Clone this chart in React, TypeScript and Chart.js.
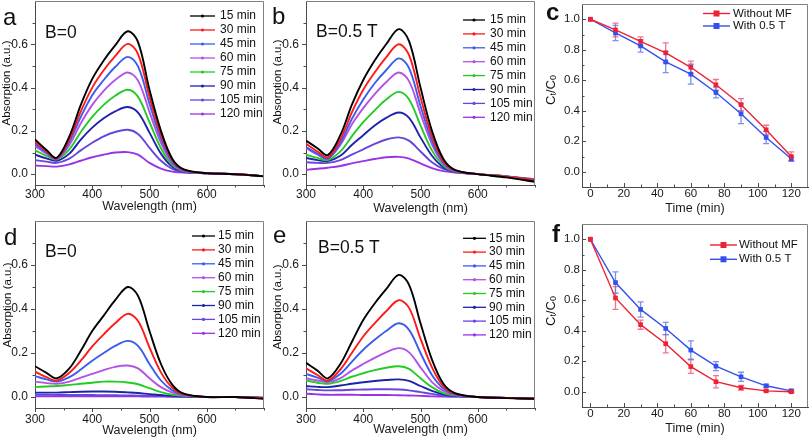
import React, { useEffect, useRef } from "react";
import { Chart, registerables } from "chart.js";
Chart.register(...registerables);

const FONT = '"Liberation Sans", Arial, Helvetica, sans-serif';

// ---------- spectra data ----------
const WAVELENGTH = [300, 320, 338, 360, 380, 400, 420, 440, 462, 480, 500, 520, 540, 560, 600, 650, 700];
const TIME_LABELS = ["15 min", "30 min", "45 min", "60 min", "75 min", "90 min", "105 min", "120 min"];
const CURVE_COLORS = ["#000000", "#ff1a1a", "#3c5cf0", "#b452e6", "#22cc22", "#1e22aa", "#6646dc", "#9a33e6"];

// panel a: B=0
const SPEC_A = [
  [0.160, 0.112, 0.076, 0.175, 0.320, 0.440, 0.525, 0.595, 0.660, 0.610, 0.390, 0.200, 0.070, 0.022, 0.005, 0.000, -0.010],
  [0.150, 0.106, 0.073, 0.160, 0.290, 0.400, 0.480, 0.545, 0.602, 0.555, 0.358, 0.182, 0.064, 0.020, 0.005, 0.000, -0.009],
  [0.140, 0.100, 0.071, 0.150, 0.265, 0.365, 0.435, 0.495, 0.542, 0.498, 0.326, 0.164, 0.057, 0.018, 0.004, 0.000, -0.009],
  [0.130, 0.095, 0.070, 0.135, 0.235, 0.320, 0.385, 0.435, 0.470, 0.432, 0.287, 0.145, 0.050, 0.016, 0.004, 0.000, -0.009],
  [0.110, 0.085, 0.068, 0.115, 0.195, 0.265, 0.320, 0.362, 0.390, 0.357, 0.240, 0.120, 0.042, 0.014, 0.004, 0.000, -0.009],
  [0.090, 0.073, 0.062, 0.095, 0.160, 0.215, 0.258, 0.290, 0.310, 0.284, 0.192, 0.095, 0.034, 0.012, 0.004, 0.000, -0.009],
  [0.065, 0.058, 0.052, 0.072, 0.110, 0.145, 0.175, 0.195, 0.205, 0.186, 0.122, 0.062, 0.024, 0.010, 0.004, 0.000, -0.009],
  [0.040, 0.037, 0.035, 0.045, 0.062, 0.078, 0.090, 0.100, 0.102, 0.090, 0.052, 0.026, 0.012, 0.007, 0.004, 0.000, -0.009],
];
// panel b: B=0.5 T
const SPEC_B = [
  [0.155, 0.120, 0.088, 0.180, 0.320, 0.435, 0.525, 0.600, 0.670, 0.615, 0.400, 0.200, 0.070, 0.020, 0.000, -0.015, -0.035],
  [0.140, 0.105, 0.078, 0.160, 0.285, 0.390, 0.470, 0.540, 0.600, 0.550, 0.355, 0.175, 0.060, 0.018, 0.000, -0.012, -0.028],
  [0.125, 0.095, 0.072, 0.145, 0.255, 0.345, 0.420, 0.480, 0.535, 0.490, 0.315, 0.155, 0.053, 0.016, 0.000, -0.012, -0.028],
  [0.120, 0.090, 0.072, 0.135, 0.230, 0.305, 0.370, 0.425, 0.470, 0.430, 0.280, 0.138, 0.048, 0.015, 0.000, -0.012, -0.028],
  [0.090, 0.075, 0.065, 0.105, 0.175, 0.240, 0.295, 0.345, 0.380, 0.345, 0.225, 0.110, 0.040, 0.013, 0.000, -0.010, -0.026],
  [0.075, 0.065, 0.060, 0.085, 0.135, 0.180, 0.225, 0.260, 0.285, 0.260, 0.170, 0.085, 0.032, 0.012, 0.000, -0.010, -0.026],
  [0.055, 0.052, 0.052, 0.065, 0.090, 0.115, 0.140, 0.160, 0.170, 0.155, 0.105, 0.055, 0.024, 0.010, 0.000, -0.010, -0.026],
  [0.020, 0.025, 0.030, 0.038, 0.050, 0.060, 0.070, 0.078, 0.080, 0.072, 0.050, 0.028, 0.014, 0.008, 0.000, -0.010, -0.024],
];
// panel d: B=0
const SPEC_D = [
  [0.140, 0.110, 0.085, 0.130, 0.210, 0.300, 0.370, 0.440, 0.500, 0.460, 0.300, 0.150, 0.055, 0.015, 0.000, 0.000, -0.008],
  [0.115, 0.090, 0.075, 0.110, 0.165, 0.230, 0.285, 0.335, 0.378, 0.345, 0.225, 0.112, 0.042, 0.012, 0.000, 0.000, -0.006],
  [0.095, 0.080, 0.070, 0.090, 0.125, 0.165, 0.200, 0.232, 0.255, 0.232, 0.150, 0.075, 0.030, 0.010, 0.000, 0.000, -0.005],
  [0.070, 0.063, 0.060, 0.070, 0.088, 0.105, 0.122, 0.137, 0.143, 0.130, 0.085, 0.045, 0.020, 0.008, 0.000, 0.000, -0.005],
  [0.045, 0.048, 0.050, 0.055, 0.060, 0.065, 0.070, 0.070, 0.066, 0.058, 0.040, 0.022, 0.010, 0.005, 0.000, 0.000, -0.005],
  [0.020, 0.020, 0.020, 0.022, 0.024, 0.025, 0.025, 0.024, 0.021, 0.018, 0.013, 0.009, 0.005, 0.003, 0.000, 0.000, -0.004],
  [0.010, 0.010, 0.009, 0.009, 0.009, 0.009, 0.008, 0.008, 0.007, 0.006, 0.005, 0.004, 0.003, 0.002, 0.000, 0.000, -0.003],
  [0.003, 0.003, 0.003, 0.003, 0.003, 0.003, 0.003, 0.003, 0.003, 0.003, 0.002, 0.002, 0.001, 0.001, 0.000, 0.000, -0.003],
];
// panel e: B=0.5 T
const SPEC_E = [
  [0.155, 0.120, 0.085, 0.150, 0.250, 0.350, 0.425, 0.490, 0.555, 0.510, 0.335, 0.170, 0.060, 0.018, 0.000, -0.005, -0.008],
  [0.130, 0.100, 0.075, 0.125, 0.200, 0.275, 0.335, 0.390, 0.440, 0.405, 0.265, 0.135, 0.048, 0.015, 0.000, -0.004, -0.008],
  [0.105, 0.088, 0.072, 0.105, 0.160, 0.215, 0.260, 0.300, 0.335, 0.305, 0.200, 0.100, 0.038, 0.012, 0.000, -0.004, -0.008],
  [0.085, 0.075, 0.068, 0.085, 0.120, 0.150, 0.178, 0.203, 0.222, 0.203, 0.135, 0.068, 0.028, 0.010, 0.000, -0.004, -0.008],
  [0.075, 0.065, 0.060, 0.072, 0.092, 0.108, 0.122, 0.133, 0.140, 0.128, 0.085, 0.045, 0.018, 0.008, 0.000, -0.004, -0.008],
  [0.050, 0.046, 0.045, 0.052, 0.060, 0.067, 0.073, 0.077, 0.080, 0.073, 0.050, 0.028, 0.012, 0.005, 0.000, -0.004, -0.008],
  [0.035, 0.032, 0.030, 0.031, 0.033, 0.034, 0.035, 0.035, 0.034, 0.030, 0.022, 0.014, 0.007, 0.004, 0.000, -0.004, -0.008],
  [0.015, 0.012, 0.010, 0.010, 0.010, 0.009, 0.009, 0.009, 0.008, 0.007, 0.005, 0.003, 0.002, 0.001, 0.000, -0.004, -0.008],
];

const WL_TICKS = [300, 350, 400, 450, 500, 550, 600, 650, 700];
const WL_LABELS = [300, 400, 500, 600];
const ABS_TICKS = [0, 0.1, 0.2, 0.3, 0.4, 0.5, 0.6, 0.7];
const ABS_LABELS = [0, 0.2, 0.4, 0.6];

// ---------- kinetics data ----------
const TIME_MIN = [0, 15, 30, 45, 60, 75, 90, 105, 120];
const SERIES_NAMES = ["Without MF", "With 0.5 T"];
const C_NO_MF = [1.0, 0.93, 0.855, 0.78, 0.685, 0.57, 0.44, 0.275, 0.10];
const C_NO_MF_ERR = [0, 0.045, 0.03, 0.065, 0.04, 0.035, 0.04, 0.03, 0.03];
const C_MF = [1.0, 0.91, 0.825, 0.72, 0.64, 0.52, 0.38, 0.225, 0.085];
const C_MF_ERR = [0, 0.05, 0.04, 0.07, 0.065, 0.035, 0.065, 0.04, 0.015];
const F_NO_MF = [1.0, 0.615, 0.44, 0.315, 0.165, 0.066, 0.026, 0.006, 0.0];
const F_NO_MF_ERR = [0, 0.075, 0.03, 0.06, 0.045, 0.04, 0.015, 0.005, 0.005];
const F_MF = [1.0, 0.716, 0.54, 0.415, 0.273, 0.168, 0.098, 0.039, 0.006];
const F_MF_ERR = [0, 0.07, 0.05, 0.04, 0.06, 0.03, 0.03, 0.01, 0.01];

const TIME_TICKS = [0, 10, 20, 30, 40, 50, 60, 70, 80, 90, 100, 110, 120];
const TIME_LABEL_TICKS = [0, 20, 40, 60, 80, 100, 120];
const RATIO_TICKS = [0, 0.1, 0.2, 0.3, 0.4, 0.5, 0.6, 0.7, 0.8, 0.9, 1.0];
const RATIO_LABELS = [0, 0.2, 0.4, 0.6, 0.8, 1.0];

const SERIES_COLORS = ["#ee2233", "#3350ee"];
const ERROR_COLORS = ["rgba(240,90,120,0.85)", "rgba(100,125,235,0.85)"];

type Geo = { left: number; top: number; w: number; h: number; aL: number; aT: number; aR: number; aB: number };

const has = (arr: number[], v: number) => arr.some((a) => Math.abs(a - v) < 1e-6);

function makeScale(o: {
  geo: Geo; isX: boolean; min: number; max: number; ticks: number[]; labels: number[];
  fmt: (v: number) => string; title?: string; titlePad?: number; pad: number; size: number;
}) {
  return {
    type: "linear",
    position: o.isX ? "bottom" : "left",
    min: o.min,
    max: o.max,
    afterBuildTicks: (s: any) => {
      s.ticks = o.ticks.map((v) => ({ value: v }));
    },
    afterFit: (s: any) => {
      if (o.isX) s.height = o.geo.h - o.geo.aB;
      else s.width = o.geo.aL;
      s.paddingLeft = 0;
      s.paddingRight = 0;
      s.paddingTop = 0;
      s.paddingBottom = 0;
    },
    grid: { display: false, drawTicks: false, drawOnChartArea: false },
    border: { display: true, color: "#4a4a4a", width: 1 },
    ticks: {
      autoSkip: false,
      maxRotation: 0,
      minRotation: 0,
      padding: o.pad,
      color: "#1a1a1a",
      font: { family: FONT, size: o.size },
      callback: (v: any) => (has(o.labels, Number(v)) ? o.fmt(Number(v)) : ""),
    },
    title: o.title
      ? { display: true, text: o.title, color: "#1a1a1a", font: { family: FONT, size: 12.5 }, padding: { top: 0, bottom: o.titlePad ?? 0 } }
      : { display: false },
  };
}

function drawFrameAndTicks(chart: any, inward: boolean, majX: number[], majY: number[]) {
  const { ctx, chartArea: a, scales } = chart;
  const x = scales.x, y = scales.y;
  ctx.save();
  ctx.strokeStyle = "#808080";
  ctx.lineWidth = 1;
  ctx.beginPath();
  ctx.moveTo(a.left, a.top + 0.5);
  ctx.lineTo(a.right - 0.5, a.top + 0.5);
  ctx.lineTo(a.right - 0.5, a.bottom);
  ctx.stroke();
  ctx.strokeStyle = "#4a4a4a";
  ctx.beginPath();
  for (const t of x.ticks) {
    const px = Math.round(x.getPixelForValue(t.value)) + 0.5;
    const len = has(majX, t.value) ? 4 : 2.5;
    ctx.moveTo(px, a.bottom);
    ctx.lineTo(px, inward ? a.bottom - len : a.bottom + len);
  }
  for (const t of y.ticks) {
    const py = Math.round(y.getPixelForValue(t.value)) + 0.5;
    const len = has(majY, t.value) ? 4 : 2.5;
    ctx.moveTo(a.left, py);
    ctx.lineTo(inward ? a.left + len : a.left - len, py);
  }
  ctx.stroke();
  ctx.restore();
}

function drawText(ctx: any, text: string, x: number, y: number, font: string, align = "left", base = "alphabetic") {
  ctx.save();
  ctx.font = font;
  ctx.fillStyle = "#111";
  ctx.textAlign = align;
  ctx.textBaseline = base;
  ctx.fillText(text, x, y);
  ctx.restore();
}

function drawRotated(ctx: any, text: string, cx: number, cy: number, font: string) {
  ctx.save();
  ctx.translate(cx, cy);
  ctx.rotate(-Math.PI / 2);
  ctx.font = font;
  ctx.fillStyle = "#111";
  ctx.textAlign = "center";
  ctx.textBaseline = "middle";
  ctx.fillText(text, 0, 0);
  ctx.restore();
}

function drawRatioTitle(ctx: any, cx: number, cy: number) {
  const big = `13px ${FONT}`, small = `9px ${FONT}`;
  const parts: [string, string, number][] = [["C", big, 0], ["t", small, 3], ["/C", big, 0], ["0", small, 3]];
  ctx.save();
  let total = 0;
  for (const [t, f] of parts) { ctx.font = f; total += ctx.measureText(t).width; }
  ctx.translate(cx, cy);
  ctx.rotate(-Math.PI / 2);
  ctx.fillStyle = "#111";
  ctx.textBaseline = "middle";
  ctx.textAlign = "left";
  let xx = -total / 2;
  for (const [t, f, dy] of parts) {
    ctx.font = f;
    ctx.fillText(t, xx, dy);
    xx += ctx.measureText(t).width;
  }
  ctx.restore();
}

type SpecPanel = {
  geo: Geo; spec: number[][]; letter: string; letterX: number; letterY: number;
  field: string; fieldX: number; fieldY: number;
  legX0: number; legX1: number; legTX: number; legY: number; legStep: number;
  yTitleX: number; yTitleY: number; xTitlePad: number; xPad: number;
};

function spectrumConfig(p: SpecPanel) {
  const datasets = TIME_LABELS.map((label, i) => ({
    label,
    data: WAVELENGTH.map((w, j) => ({ x: w, y: p.spec[i][j] })),
    borderColor: CURVE_COLORS[i],
    backgroundColor: CURVE_COLORS[i],
    borderWidth: 1.9,
    pointRadius: 0,
    tension: 0.35,
    fill: false,
  }));
  const deco = {
    id: "deco",
    afterDraw(chart: any) {
      const ctx = chart.ctx;
      drawFrameAndTicks(chart, false, WL_LABELS, ABS_LABELS);
      drawText(ctx, p.letter, p.letterX, p.letterY, `24px ${FONT}`);
      drawText(ctx, p.field, p.fieldX, p.fieldY, `17.5px ${FONT}`);
      drawRotated(ctx, "Absorption (a.u.)", p.yTitleX, p.yTitleY, `11.5px ${FONT}`);
      chart.data.datasets.forEach((ds: any, i: number) => {
        const yy = p.legY + i * p.legStep;
        ctx.save();
        ctx.strokeStyle = ds.borderColor;
        ctx.lineWidth = 1.3;
        ctx.beginPath();
        ctx.moveTo(p.legX0, yy);
        ctx.lineTo(p.legX1, yy);
        ctx.stroke();
        ctx.fillStyle = ds.borderColor;
        ctx.beginPath();
        ctx.arc((p.legX0 + p.legX1) / 2, yy, 1.6, 0, Math.PI * 2);
        ctx.fill();
        ctx.restore();
        drawText(ctx, ds.label, p.legTX, yy, `12px ${FONT}`, "left", "middle");
      });
    },
  };
  return {
    type: "line",
    data: { datasets },
    options: {
      responsive: false,
      animation: false,
      devicePixelRatio: 1,
      layout: { padding: { left: 0, top: p.geo.aT, right: p.geo.w - p.geo.aR, bottom: 0 } },
      plugins: { legend: { display: false }, tooltip: { enabled: false } },
      scales: {
        x: makeScale({ geo: p.geo, isX: true, min: 300, max: 700, ticks: WL_TICKS, labels: WL_LABELS, fmt: (v) => String(v), title: "Wavelength (nm)", titlePad: p.xTitlePad, pad: p.xPad, size: 12 }),
        y: makeScale({ geo: p.geo, isX: false, min: -0.05, max: 0.8, ticks: ABS_TICKS, labels: ABS_LABELS, fmt: (v) => v.toFixed(1), pad: 7, size: 12 }),
      },
    },
    plugins: [deco],
  };
}

type KinPanel = {
  geo: Geo; series: number[][]; errors: number[][]; letter: string; letterX: number; letterY: number;
  legX0: number; legX1: number; legTX: number; legY: number; legStep: number; yTitleX: number; yTitleY: number;
};

function kineticConfig(p: KinPanel) {
  const datasets = SERIES_NAMES.map((label, i) => ({
    label,
    data: TIME_MIN.map((t, j) => ({ x: t, y: p.series[i][j] })),
    errors: p.errors[i],
    errorColor: ERROR_COLORS[i],
    borderColor: SERIES_COLORS[i],
    backgroundColor: SERIES_COLORS[i],
    borderWidth: 1.4,
    pointStyle: "rect",
    pointRadius: 3.3,
    pointBorderWidth: 0,
    tension: 0,
    fill: false,
  }));
  const errPlugin = {
    id: "errbars",
    beforeDatasetsDraw(chart: any) {
      const { ctx, scales } = chart;
      chart.data.datasets.forEach((ds: any) => {
        ctx.save();
        ctx.strokeStyle = ds.errorColor;
        ctx.lineWidth = 1.3;
        ctx.beginPath();
        ds.data.forEach((pt: any, k: number) => {
          const e = ds.errors[k];
          if (!e) return;
          const px = scales.x.getPixelForValue(pt.x);
          const t = scales.y.getPixelForValue(pt.y + e);
          const b = scales.y.getPixelForValue(pt.y - e);
          ctx.moveTo(px, t); ctx.lineTo(px, b);
          ctx.moveTo(px - 3, t); ctx.lineTo(px + 3, t);
          ctx.moveTo(px - 3, b); ctx.lineTo(px + 3, b);
        });
        ctx.stroke();
        ctx.restore();
      });
    },
  };
  const deco = {
    id: "deco",
    afterDraw(chart: any) {
      const ctx = chart.ctx;
      drawFrameAndTicks(chart, true, TIME_LABEL_TICKS, RATIO_LABELS);
      drawText(ctx, p.letter, p.letterX, p.letterY, `bold 24px ${FONT}`);
      drawRatioTitle(ctx, p.yTitleX, p.yTitleY);
      chart.data.datasets.forEach((ds: any, i: number) => {
        const yy = p.legY + i * p.legStep;
        ctx.save();
        ctx.strokeStyle = ds.borderColor;
        ctx.lineWidth = 1.4;
        ctx.beginPath();
        ctx.moveTo(p.legX0, yy);
        ctx.lineTo(p.legX1, yy);
        ctx.stroke();
        ctx.fillStyle = ds.borderColor;
        const cx = (p.legX0 + p.legX1) / 2;
        ctx.fillRect(cx - 3, yy - 3, 6, 6);
        ctx.restore();
        drawText(ctx, ds.label, p.legTX, yy, `11.5px ${FONT}`, "left", "middle");
      });
    },
  };
  return {
    type: "line",
    data: { datasets },
    options: {
      responsive: false,
      animation: false,
      devicePixelRatio: 1,
      layout: { padding: { left: 0, top: p.geo.aT, right: p.geo.w - p.geo.aR, bottom: 0 } },
      plugins: { legend: { display: false }, tooltip: { enabled: false } },
      scales: {
        x: makeScale({ geo: p.geo, isX: true, min: -5, max: 130, ticks: TIME_TICKS, labels: TIME_LABEL_TICKS, fmt: (v) => String(v), title: "Time (min)", titlePad: 3.5, pad: 0, size: 11.5 }),
        y: makeScale({ geo: p.geo, isX: false, min: -0.1, max: 1.1, ticks: RATIO_TICKS, labels: RATIO_LABELS, fmt: (v) => v.toFixed(1), pad: 2, size: 11.5 }),
      },
    },
    plugins: [errPlugin, deco],
  };
}

const GEO_A: Geo = { left: 0, top: 0, w: 270, h: 220, aL: 35, aT: 1, aR: 264, aB: 185 };
const GEO_B: Geo = { left: 270, top: 0, w: 270, h: 220, aL: 36, aT: 1, aR: 265, aB: 185 };
const GEO_C: Geo = { left: 540, top: 0, w: 272, h: 220, aL: 42, aT: 3, aR: 269, aB: 187 };
const GEO_D: Geo = { left: 0, top: 220, w: 270, h: 220, aL: 35, aT: 1, aR: 264, aB: 188 };
const GEO_E: Geo = { left: 270, top: 220, w: 270, h: 220, aL: 36, aT: 1, aR: 265, aB: 188 };
const GEO_F: Geo = { left: 540, top: 220, w: 272, h: 220, aL: 42, aT: 3, aR: 269, aB: 187 };

function Panel({ geo, build }: { geo: Geo; build: () => any }) {
  const ref = useRef<HTMLCanvasElement>(null);
  useEffect(() => {
    const chart = new Chart(ref.current as HTMLCanvasElement, build() as any);
    return () => chart.destroy();
  }, []);
  return (
    <div style={{ position: "absolute", left: geo.left, top: geo.top, width: geo.w, height: geo.h }}>
      <canvas ref={ref} width={geo.w} height={geo.h} style={{ width: geo.w, height: geo.h, display: "block" }} />
    </div>
  );
}

export default function App() {
  return (
    <div style={{ position: "fixed", left: 0, top: 0, width: 812, height: 440, background: "#fff", overflow: "hidden" }}>
      <Panel geo={GEO_A} build={() => spectrumConfig({ geo: GEO_A, spec: SPEC_A, letter: "a", letterX: 3, letterY: 25, field: "B=0", fieldX: 45, fieldY: 37.5, legX0: 190, legX1: 215, legTX: 220, legY: 16, legStep: 14, yTitleX: 6.5, yTitleY: 83, xTitlePad: 5.5, xPad: 2 })} />
      <Panel geo={GEO_B} build={() => spectrumConfig({ geo: GEO_B, spec: SPEC_B, letter: "b", letterX: 2, letterY: 24, field: "B=0.5 T", fieldX: 46, fieldY: 36.5, legX0: 193, legX1: 215, legTX: 220, legY: 20, legStep: 13.9, yTitleX: 7.5, yTitleY: 82, xTitlePad: 4, xPad: 2 })} />
      <Panel geo={GEO_C} build={() => kineticConfig({ geo: GEO_C, series: [C_NO_MF, C_MF], errors: [C_NO_MF_ERR, C_MF_ERR], letter: "c", letterX: 6, letterY: 20, legX0: 163, legX1: 190, legTX: 193, legY: 13.5, legStep: 12.5, yTitleX: 11, yTitleY: 90 })} />
      <Panel geo={GEO_D} build={() => spectrumConfig({ geo: GEO_D, spec: SPEC_D, letter: "d", letterX: 4, letterY: 25, field: "B=0", fieldX: 45, fieldY: 36.5, legX0: 192, legX1: 215, legTX: 218, legY: 16, legStep: 13.9, yTitleX: 7.5, yTitleY: 85, xTitlePad: 1.5, xPad: 4 })} />
      <Panel geo={GEO_E} build={() => spectrumConfig({ geo: GEO_E, spec: SPEC_E, letter: "e", letterX: 3, letterY: 23, field: "B=0.5 T", fieldX: 48, fieldY: 33, legX0: 193, legX1: 216, legTX: 219, legY: 18.3, legStep: 13.8, yTitleX: 8, yTitleY: 87, xTitlePad: 2.5, xPad: 4 })} />
      <Panel geo={GEO_F} build={() => kineticConfig({ geo: GEO_F, series: [F_NO_MF, F_MF], errors: [F_NO_MF_ERR, F_MF_ERR], letter: "f", letterX: 12, letterY: 22, legX0: 170, legX1: 197, legTX: 199, legY: 25, legStep: 14.3, yTitleX: 11, yTitleY: 91 })} />
    </div>
  );
}
